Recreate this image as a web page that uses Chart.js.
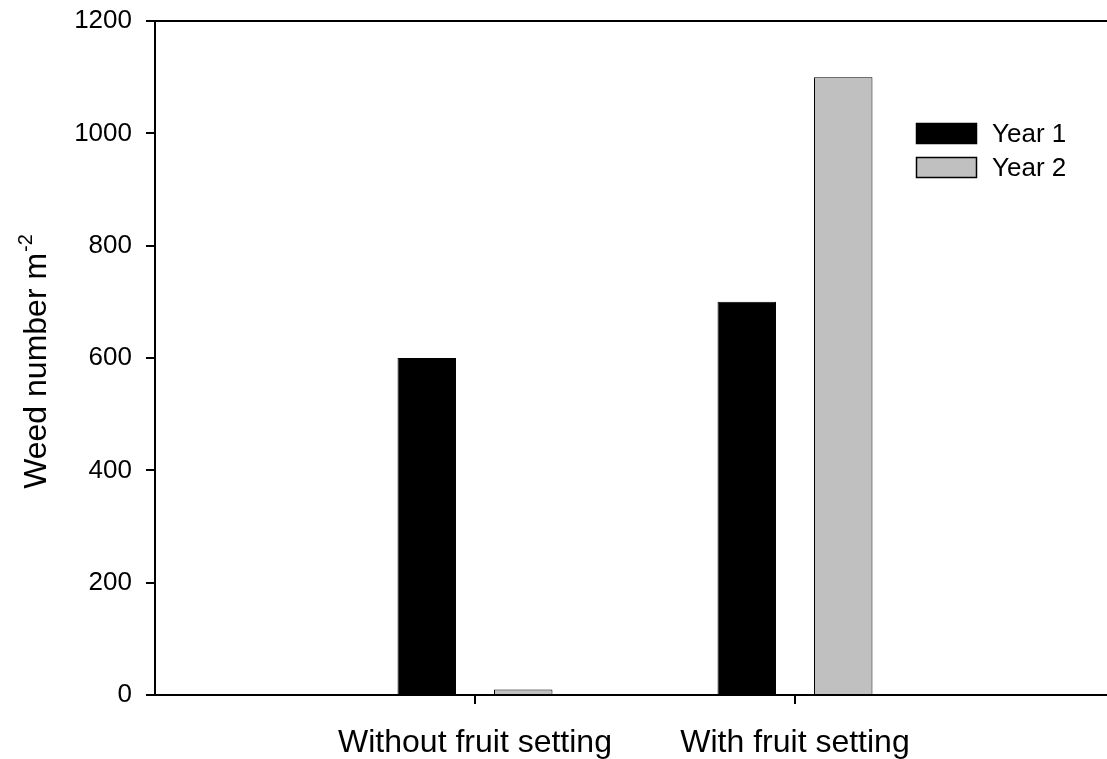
<!DOCTYPE html>
<html>
<head>
<meta charset="utf-8">
<script src="https://cdn.jsdelivr.net/npm/chart.js@4.4.1/dist/chart.umd.min.js"></script>
<style>
  html, body { margin: 0; padding: 0; background: #ffffff; overflow: hidden; }
  #wrap { width: 1107px; height: 759px; }
</style>
</head>
<body>
<div id="wrap"><canvas id="c" width="1107" height="759"></canvas></div>
<script>
// Treatments and where they sit on the horizontal axis
const categories = ['Without fruit setting', 'With fruit setting'];
const categoryPositions = [1, 2];

// Weed counts per square metre
const seriesNames = ['Year 1', 'Year 2'];
const year1 = [600, 700];
const year2 = [10, 1100];

// Axis ticks
const yTicks = [0, 200, 400, 600, 800, 1000, 1200];
const yTitle = 'Weed number m';
const yTitleSup = '-2';

const FONT = "'Liberation Sans', Arial, Helvetica, sans-serif";
const toPoints = vals => vals.map((v, i) => ({ x: categoryPositions[i], y: v }));

// Legend drawn inside the plot, upper right
const insideLegend = {
  id: 'insideLegend',
  afterDraw(chart) {
    const { ctx, chartArea } = chart;
    const x0 = chartArea.left + 761;
    const y0 = chartArea.top + 102;
    const boxW = 61, boxH = 21, rowH = 34;
    ctx.save();
    ctx.font = '26px ' + FONT;
    ctx.textBaseline = 'middle';
    ctx.textAlign = 'left';
    chart.data.datasets.forEach((ds, i) => {
      const y = y0 + i * rowH;
      ctx.fillStyle = ds.backgroundColor;
      ctx.fillRect(x0, y, boxW, boxH);
      ctx.lineWidth = 1.5;
      ctx.strokeStyle = '#000000';
      ctx.strokeRect(x0 + 0.5, y + 0.5, boxW - 1, boxH - 1);
      ctx.fillStyle = '#000000';
      ctx.fillText(ds.label, x0 + boxW + 15, y + boxH / 2 + 1);
    });
    ctx.restore();
  }
};

// Vertical axis title with a superscript exponent
const yAxisTitle = {
  id: 'yAxisTitle',
  afterDraw(chart) {
    const { ctx } = chart;
    ctx.save();
    ctx.font = '32px ' + FONT;
    const w1 = ctx.measureText(yTitle).width;
    ctx.font = '20px ' + FONT;
    const w2 = ctx.measureText(yTitleSup).width;
    const total = w1 + w2;
    const cx = 46, cy = 362;
    ctx.translate(cx, cy);
    ctx.rotate(-Math.PI / 2);
    ctx.fillStyle = '#000000';
    ctx.textBaseline = 'alphabetic';
    ctx.textAlign = 'left';
    ctx.font = '32px ' + FONT;
    ctx.fillText(yTitle, -total / 2, 0);
    ctx.font = '20px ' + FONT;
    ctx.fillText(yTitleSup, -total / 2 + w1 + 1, -14);
    ctx.restore();
  }
};

new Chart(document.getElementById('c'), {
  type: 'bar',
  data: {
    datasets: [
      { label: seriesNames[0], data: toPoints(year1), backgroundColor: '#000000', borderColor: '#000000', borderWidth: 1 },
      { label: seriesNames[1], data: toPoints(year2), backgroundColor: '#c0c0c0', borderColor: '#000000', borderWidth: 1 }
    ]
  },
  options: {
    responsive: false,
    animation: false,
    devicePixelRatio: 1,
    categoryPercentage: 0.603,
    barPercentage: 0.606,
    layout: { padding: 0 },
    plugins: { legend: { display: false }, tooltip: { enabled: false } },
    scales: {
      x: {
        type: 'linear',
        position: 'bottom',
        min: 0,
        max: 2.975,
        offset: false,
        afterBuildTicks: s => { s.ticks = categoryPositions.map(v => ({ value: v })); },
        afterFit: s => { s.height = 64; s.paddingLeft = 0; s.paddingRight = 0; },
        ticks: {
          callback: v => categories[categoryPositions.indexOf(v)],
          font: { family: FONT, size: 32 },
          color: '#000000',
          padding: 20,
          maxRotation: 0,
          autoSkip: false
        },
        grid: { offset: false, drawOnChartArea: false, drawTicks: true, tickLength: 9, color: '#000000', lineWidth: 2 },
        border: { display: true, color: '#000000', width: 2 }
      },
      xTop: {
        type: 'linear',
        position: 'top',
        min: 0,
        max: 1,
        afterFit: s => { s.height = 21; s.paddingLeft = 0; s.paddingRight = 0; },
        ticks: { display: false },
        grid: { display: false, drawTicks: false },
        border: { display: true, color: '#000000', width: 2 }
      },
      y: {
        type: 'linear',
        min: 0,
        max: 1200,
        afterBuildTicks: s => { s.ticks = yTicks.map(v => ({ value: v })); },
        afterFit: s => { s.width = 155; s.paddingTop = 0; s.paddingBottom = 0; },
        ticks: {
          callback: v => String(v),
          font: { family: FONT, size: 26 },
          color: '#000000',
          padding: 14
        },
        grid: { drawOnChartArea: false, drawTicks: true, tickLength: 9, color: '#000000', lineWidth: 2 },
        border: { display: true, color: '#000000', width: 2 }
      }
    }
  },
  plugins: [insideLegend, yAxisTitle]
});
</script>
</body>
</html>
